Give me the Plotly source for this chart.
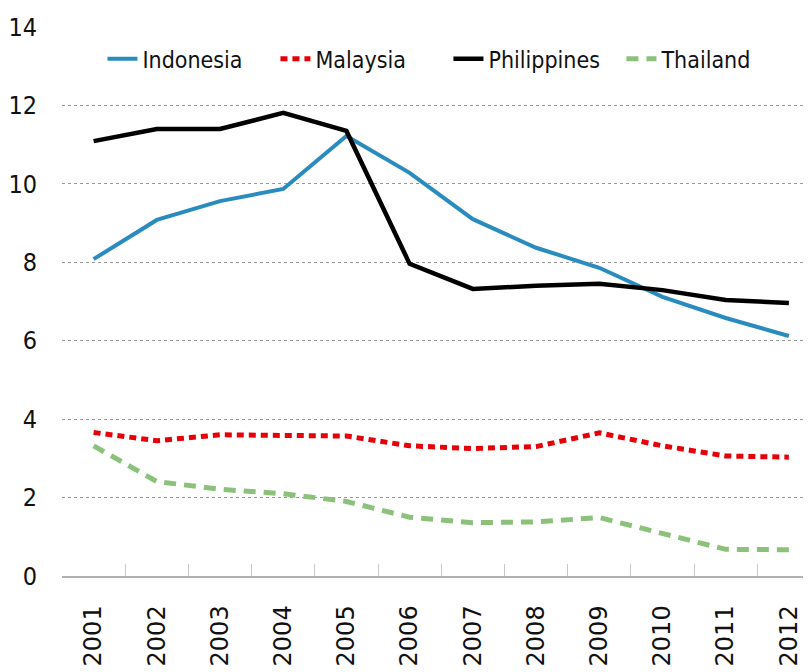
import plotly.graph_objects as go

years = ["2001", "2002", "2003", "2004", "2005", "2006", "2007", "2008", "2009", "2010", "2011", "2012"]
indonesia = [8.08, 9.08, 9.56, 9.87, 11.22, 10.28, 9.10, 8.37, 7.86, 7.12, 6.58, 6.12]
malaysia = [3.66, 3.45, 3.60, 3.58, 3.57, 3.32, 3.25, 3.30, 3.65, 3.32, 3.06, 3.03]
philippines = [11.09, 11.40, 11.40, 11.81, 11.35, 7.96, 7.32, 7.40, 7.45, 7.29, 7.04, 6.96]
thailand = [3.32, 2.41, 2.21, 2.10, 1.90, 1.50, 1.36, 1.38, 1.49, 1.09, 0.68, 0.67]
y_ticks = [0, 2, 4, 6, 8, 10, 12, 14]

narrow = "DejaVu Sans Condensed, Liberation Sans Narrow, sans-serif"

fig = go.Figure()
fig.add_trace(go.Scatter(x=years, y=indonesia, name="Indonesia", mode="lines",
                         line=dict(color="#2A8CBE", width=4)))
fig.add_trace(go.Scatter(x=years, y=malaysia, name="Malaysia", mode="lines",
                         line=dict(color="#E60008", width=5, dash="7px,5px")))
fig.add_trace(go.Scatter(x=years, y=philippines, name="Philippines", mode="lines",
                         line=dict(color="#000000", width=4.5)))
fig.add_trace(go.Scatter(x=years, y=thailand, name="Thailand", mode="lines",
                         line=dict(color="#8CC17C", width=5, dash="12px,8px")))

fig.update_layout(
    width=803, height=664,
    margin=dict(l=54, r=0, t=19, b=96),
    paper_bgcolor="white", plot_bgcolor="white",
    showlegend=True,
    legend=dict(orientation="h", x=0.054, xanchor="left", y=0.942, yanchor="middle",
                bgcolor="rgba(0,0,0,0)", entrywidth=128, itemwidth=30,
                font=dict(family=narrow, size=23, color="#111")),
    xaxis=dict(type="category", range=[-0.5, 11.35], showgrid=False,
               showline=True, linecolor="#b0b0b0", linewidth=1.5,
               ticks="inside", tickson="boundaries", ticklen=12, tickcolor="#c8c8c8", tickwidth=1,
               tickangle=-90, ticklabelstandoff=18,
               tickfont=dict(family="DejaVu Sans, Verdana, sans-serif", size=24, color="#111")),
    yaxis=dict(range=[0, 14], tickvals=y_ticks, showgrid=True, gridcolor="#999999",
               griddash="dot", gridwidth=1, zeroline=False, showline=False,
               ticks="", ticklabelstandoff=24,
               tickfont=dict(family=narrow, size=25, color="#111")),
)

fig.write_html("out.html")
